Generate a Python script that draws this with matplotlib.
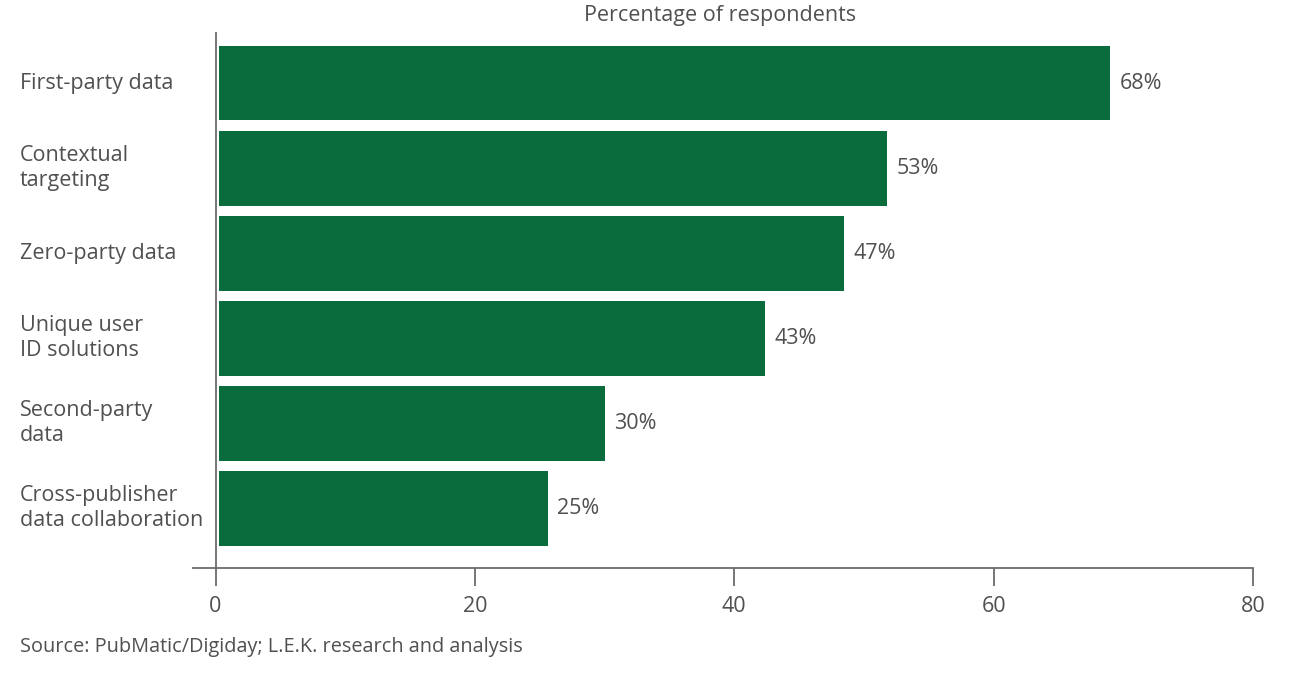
import matplotlib
matplotlib.use("Agg")
import matplotlib.pyplot as plt
import matplotlib.transforms as mtransforms

categories = ["First-party data", "Contextual\ntargeting", "Zero-party data",
              "Unique user\nID solutions", "Second-party\ndata",
              "Cross-publisher\ndata collaboration"]
values = [69.0, 51.8, 48.5, 42.4, 30.0, 25.6]
value_labels = ["68%", "53%", "47%", "43%", "30%", "25%"]
xticks = [0, 20, 40, 60, 80]
title = "Percentage of respondents"
source = "Source: PubMatic/Digiday; L.E.K. research and analysis"

GREEN = "#0A6B3C"
TEXT = "#505050"
AXIS = "#6b6b6b"

plt.rcParams['font.family'] = ['Open Sans', 'DejaVu Sans']

fig = plt.figure(figsize=(13, 6.84), dpi=100)
ax = fig.add_axes([193/1300, 1 - 568/684, (1253 - 193)/1300, (568 - 33)/684])

pos = list(range(len(categories)))
ax.barh(pos, [v - 0.27 for v in values], left=0.27, height=0.88, color=GREEN)

for p, v, lab in zip(pos, values, value_labels):
    ax.text(v + 0.7, p, lab, va='center', ha='left', fontsize=15.5, color=TEXT)

ax.set_xlim(-1.735, 80)
ax.set_ylim(5.70, -0.588)

for s in ['top', 'right']:
    ax.spines[s].set_visible(False)
ax.spines['left'].set_position(('data', 0))
ax.spines['left'].set_color(AXIS)
ax.spines['bottom'].set_color(AXIS)
ax.spines['left'].set_linewidth(1.3)
ax.spines['bottom'].set_linewidth(1.3)

ax.set_xticks(xticks)
ax.set_xticklabels([str(t) for t in xticks])
ax.tick_params(axis='x', direction='out', length=13, width=1.3, color=AXIS,
               labelsize=15.5, labelcolor=TEXT, pad=7)
ax.set_yticks([])

trans = mtransforms.blended_transform_factory(fig.transFigure, ax.transData)
for p, c in zip(pos, categories):
    ax.text(20/1300, p, c, transform=trans, ha='left', va='center',
            fontsize=15.5, color=TEXT, linespacing=1.25)

fig.text(720/1300, 1 - 15/684, title, ha='center', va='center', fontsize=15.5, color=TEXT)
fig.text(20/1300, 1 - 647/684, source, ha='left', va='center', fontsize=14.3, color=TEXT)

fig.savefig("out.png", dpi=100)
